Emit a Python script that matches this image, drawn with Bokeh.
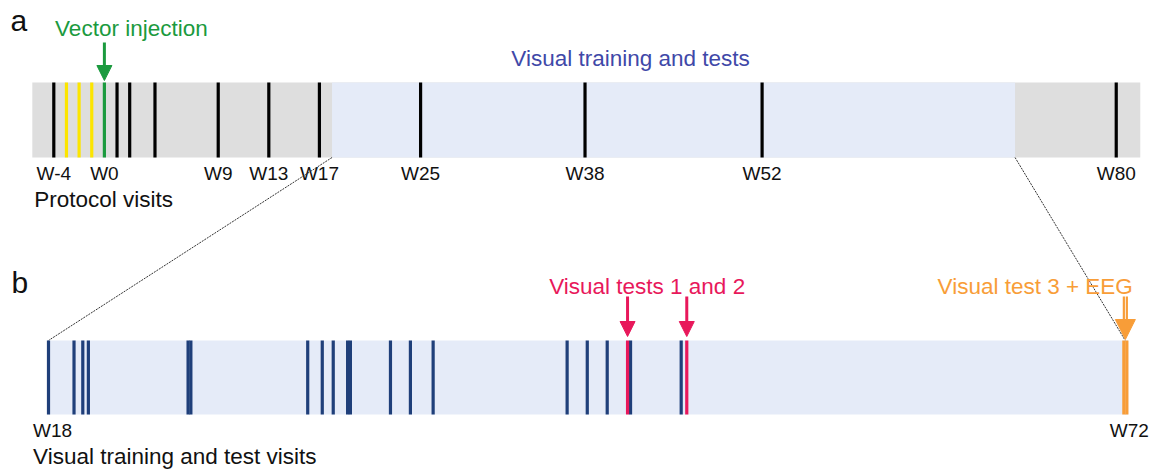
from bokeh.plotting import figure
from bokeh.models import Range1d, Arrow, NormalHead
from bokeh.core.properties import value
from bokeh.embed import file_html
from bokeh.resources import INLINE

# ---------------- data (weeks) ----------------
protocol_weeks = [-4, 1, 2, 4, 9, 13, 17, 25, 38, 52, 80]      # black protocol visits
screening_weeks = [-3, -2, -1]                                 # yellow visits
injection_weeks = [0]                                          # vector injection
protocol_label_weeks = [-4, 0, 9, 13, 17, 25, 38, 52, 80]
protocol_labels = ["W-4", "W0", "W9", "W13", "W17", "W25", "W38", "W52", "W80"]
study_span = [-5.7, 81.9]
training_span = [18, 72]
zoom_bar_span = [17.93, 72.15]
training_visits = [18.0, 19.28, 19.72, 20.0, 25.0, 25.14, 31.0, 31.73, 32.28,
                   33.0, 33.14, 35.15, 36.15, 37.29, 44.01, 45.02, 46.02,
                   47.19, 49.73]
visual_tests_12 = [47.04, 50.01]
visual_test3_eeg = [71.93, 72.08]
zoom_label_weeks = [18, 72]
zoom_labels = ["W18", "W72"]

# ---------------- style ----------------
FONT = value("Liberation Sans")
GREY = "#dedede"
LIGHT = "#e5ebf8"
NAVY = "#1f3f7a"
YELLOW = "#fce500"
GREEN = "#1b9a3e"
PURPLE = "#4048a8"
RED = "#e8185b"
ORANGE = "#f89d38"
INK = "#111111"

# vertical layout (rows)
TOP_Y = (82, 157)
BOT_Y = (340, 414)
DY = -7  # text baseline correction

# ranges: both x ranges span the same frame
T0, T1 = -8.214, 83.025
B0, B1 = 15.593, 73.467

def zoom_to_top(w):
    return T0 + (w - B0) / (B1 - B0) * (T1 - T0)

p = figure(width=1154, height=469, x_range=Range1d(T0, T1), y_range=Range1d(469, 0),
           toolbar_location=None, output_backend="svg", min_border=0,
           x_axis_location=None, y_axis_location=None)
p.extra_x_ranges = {"zoom": Range1d(B0, B1)}
p.grid.visible = False
p.outline_line_color = None
p.background_fill_color = "white"

def label(x, y, txt, size, color=INK, align="left", xoff=0, rng="default"):
    p.text(x=x, y=[v + DY for v in y], text=txt, x_offset=xoff,
           text_font=FONT, text_font_size=size, text_align=align,
           text_baseline="alphabetic", text_color=color, x_range_name=rng)

def vlines(xs, y, color, width, rng="default"):
    p.segment(x0=xs, x1=xs, y0=[y[0]] * len(xs), y1=[y[1]] * len(xs),
              line_color=color, line_width=width, line_cap="butt", x_range_name=rng)

# ---------------- panel a ----------------
p.quad(left=[study_span[0]], right=[study_span[1]], top=[TOP_Y[0]], bottom=[TOP_Y[1]],
       fill_color=GREY, line_color=None)
p.quad(left=[training_span[0]], right=[training_span[1]], top=[TOP_Y[0]], bottom=[TOP_Y[1]],
       fill_color=LIGHT, line_color=None)

vlines(protocol_weeks, TOP_Y, "black", 3.2)
vlines(screening_weeks, TOP_Y, YELLOW, 3.2)
vlines(injection_weeks, TOP_Y, GREEN, 3.2)

label(protocol_label_weeks, [180] * len(protocol_label_weeks), protocol_labels, "19px", align="center")
label([study_span[0]], [205.5], ["Protocol visits"], "22.5px", xoff=2)
label([T0], [27], ["a"], "30px", xoff=10)
label(injection_weeks, [35], ["Vector injection"], "22.5px", color=GREEN, align="center", xoff=27)
label([sum(training_span) / 2], [65], ["Visual training and tests"], "22.5px",
      color=PURPLE, align="center", xoff=-43)

p.add_layout(Arrow(x_start=injection_weeks[0], y_start=42, x_end=injection_weeks[0], y_end=80,
                   line_color=GREEN, line_width=3,
                   end=NormalHead(size=15, fill_color=GREEN, line_color=GREEN, line_width=1)))

# ---------------- connectors ----------------
p.segment(x0=[training_span[0], training_span[1]], y0=[TOP_Y[1], TOP_Y[1]],
          x1=[zoom_to_top(training_span[0]), zoom_to_top(training_span[1])],
          y1=[BOT_Y[0], BOT_Y[0]],
          line_color="#333333", line_width=1, line_dash="2 1")

# ---------------- panel b ----------------
p.quad(left=[zoom_bar_span[0]], right=[zoom_bar_span[1]], top=[BOT_Y[0]], bottom=[BOT_Y[1]],
       fill_color=LIGHT, line_color=None, x_range_name="zoom")
vlines(training_visits, BOT_Y, NAVY, 3.2, "zoom")
vlines(visual_tests_12, BOT_Y, RED, 3.2, "zoom")
vlines(visual_test3_eeg, BOT_Y, ORANGE, 3.2, "zoom")

label(zoom_label_weeks, [437, 437], zoom_labels, "19px", align="center", xoff=4, rng="zoom")
label([zoom_bar_span[0]], [463], ["Visual training and test visits"], "22.5px", xoff=-14, rng="zoom")
label([T0], [289], ["b"], "30px", xoff=11)
label([sum(visual_tests_12) / 2], [293], ["Visual tests 1 and 2"], "22.5px",
      color=RED, align="center", xoff=-10, rng="zoom")
label([visual_test3_eeg[1]], [293], ["Visual test 3 + EEG"], "22.5px",
      color=ORANGE, align="right", xoff=6, rng="zoom")

for wk in visual_tests_12:
    p.add_layout(Arrow(x_start=wk, y_start=296, x_end=wk, y_end=336,
                       line_color=RED, line_width=3, x_range_name="zoom",
                       end=NormalHead(size=15, fill_color=RED, line_color=RED, line_width=1)))

# double-shaft arrow for test 3 + EEG
p.segment(x0=visual_test3_eeg, x1=visual_test3_eeg, y0=[296, 296], y1=[326, 326],
          line_color=ORANGE, line_width=2.2, line_cap="butt", x_range_name="zoom")
mid3 = sum(visual_test3_eeg) / 2
p.add_layout(Arrow(x_start=mid3, y_start=322, x_end=mid3, y_end=339,
                   line_alpha=0, line_width=1, x_range_name="zoom",
                   end=NormalHead(size=20, fill_color=ORANGE, line_color=ORANGE, line_width=1)))

open("out.html", "w").write(file_html(p, INLINE))
